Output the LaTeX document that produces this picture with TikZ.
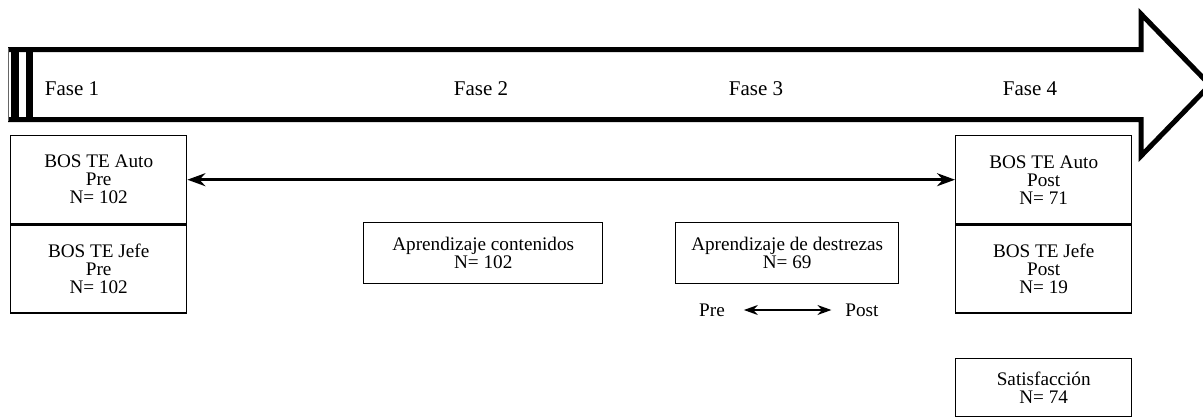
\documentclass[tikz,border=0pt]{standalone}
\usepackage{fontspec}
\setmainfont{Liberation Serif}
\usetikzlibrary{arrows.meta}

\tikzset{
  caja/.style={draw, line width=0.7pt, inner sep=0pt, align=center, anchor=north west,
    minimum width=88pt, minimum height=44pt, font=\fontsize{9.6}{9}\selectfont},
  fase/.style={anchor=base, font=\fontsize{10.5}{12}\selectfont},
  texto/.style={font=\fontsize{9.6}{9}\selectfont},
  flecha/.style={line width=1.3pt, {Stealth[length=9pt,width=6.5pt]}-{Stealth[length=9pt,width=6.5pt]}},
}

\begin{document}
\begin{tikzpicture}[x=0.5pt, y=-0.5pt]
  \useasboundingbox (0,0) rectangle (1203,418);

  % flecha grande de las fases
  \draw[line width=2.5pt, line join=miter] (8,119.5) -- (1141,119.5) -- (1141,156)
    -- (1210,85) -- (1141,14) -- (1141,49.5) -- (8,49.5);
  \draw[line width=0.6pt, black!60] (8.5,48) -- (8.5,121);
  \fill (11,48) rectangle (19,121);
  \fill (26,48) rectangle (33,121);

  \node[fase] (fase1) at (72,95) {Fase 1};
  \node[fase] (fase2) at (481,95) {Fase 2};
  \node[fase] (fase3) at (756,95) {Fase 3};
  \node[fase] (fase4) at (1030,95) {Fase 4};

  % cajas
  \node[caja] (autopre) at (10,135) {BOS TE Auto\\Pre\\N= 102};
  \node[caja] (jefepre) at (autopre.south west) {BOS TE Jefe\\Pre\\N= 102};
  \node[caja] (autopost) at (955,135) {BOS TE Auto\\Post\\N= 71};
  \node[caja] (jefepost) at (autopost.south west) {BOS TE Jefe\\Post\\N= 19};
  \node[caja, minimum height=29pt] (satis) at (955,358) {Satisfacción\\N= 74};
  \node[caja, minimum width=119.5pt, minimum height=30.5pt] (contenidos) at (363,222)
    {Aprendizaje contenidos\\N= 102};
  \node[caja, minimum width=111.5pt, minimum height=30.5pt] (destrezas) at (675,222)
    {Aprendizaje de destrezas\\N= 69};

  \node[texto] (pre) at (712,310) {Pre};
  \node[texto] (post) at (862,310) {Post};

  % flechas
  \draw[flecha] (autopre.east) -- (autopost.west);
  \draw[line width=0.7pt, {Stealth[length=7pt,width=5pt]}-{Stealth[length=7pt,width=5pt]},
    shorten <=6pt, shorten >=3.5pt] (pre.east) -- (post.west);
\end{tikzpicture}
\end{document}
